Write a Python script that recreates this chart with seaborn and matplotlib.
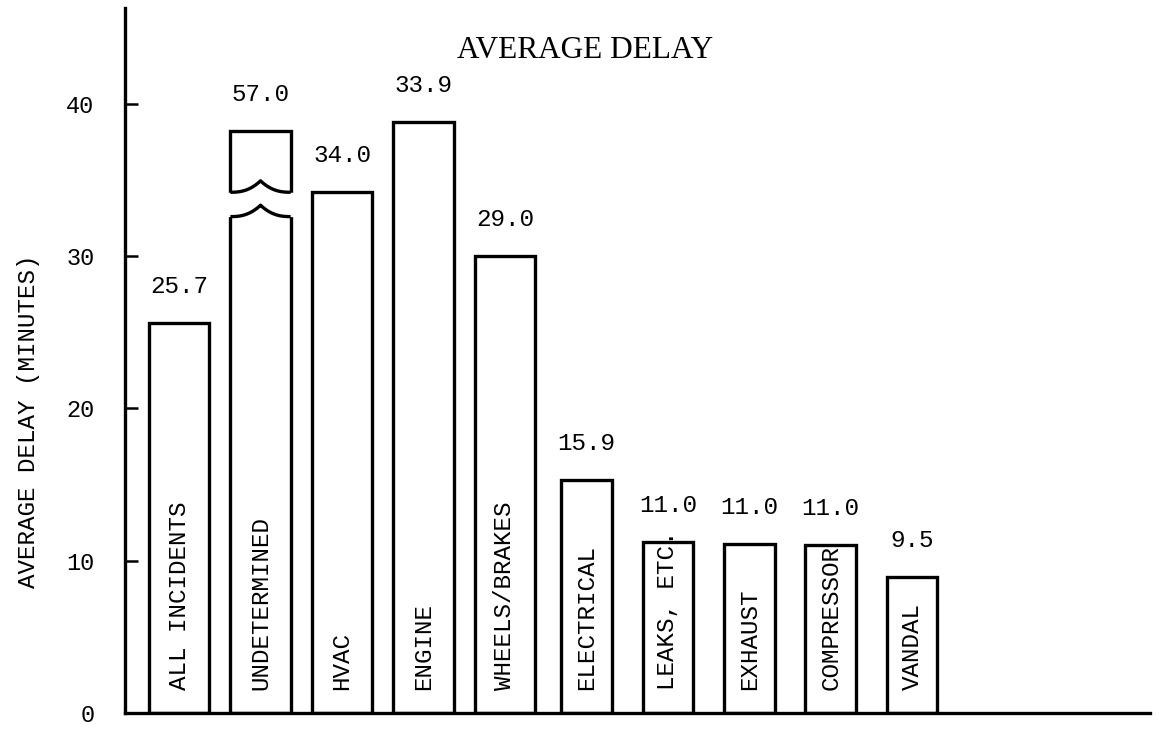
import numpy as np
import pandas as pd
import seaborn as sns
import matplotlib.pyplot as plt

# values
categories = ['ALL INCIDENTS', 'UNDETERMINED', 'HVAC', 'ENGINE', 'WHEELS/BRAKES',
              'ELECTRICAL', 'LEAKS, ETC.', 'EXHAUST', 'COMPRESSOR', 'VANDAL']
bar_heights = [25.6, 38.2, 34.2, 38.8, 30.0, 15.3, 11.2, 11.1, 11.0, 8.9]
value_labels = ['25.7', '57.0', '34.0', '33.9', '29.0', '15.9', '11.0', '11.0', '11.0', '9.5']
y_ticks = [0, 10, 20, 30, 40]

# broken bar (UNDETERMINED is off the scale)
BROKEN = 1
BREAK_LOW = 32.6
BREAK_HIGH = 34.2
BUMP = 0.75

MONO = 'Liberation Mono'

df = pd.DataFrame({'cause': categories, 'delay': bar_heights})

sns.set_theme(style='white')
plt.rcParams['font.family'] = [MONO, 'DejaVu Sans Mono']
plt.rcParams['text.color'] = 'black'
plt.rcParams['axes.labelcolor'] = 'black'

fig = plt.figure(figsize=(11.6, 7.29), dpi=100)
ax = fig.add_axes([0.1078, 0.022, 0.8836, 0.967])

sns.barplot(data=df, x='cause', y='delay', order=categories, color='white',
            edgecolor='black', linewidth=2.4, width=0.68, saturation=1, ax=ax)

# wider bars on the left group, narrower on the right
for i, p in enumerate(ax.patches):
    w = 0.74 if i < 5 else 0.62
    c = p.get_x() + p.get_width() / 2
    p.set_width(w)
    p.set_x(c - w / 2)
    p.set_facecolor('white')
    p.set_edgecolor('black')

# break symbol on the off-scale bar
brk = ax.patches[BROKEN]
x0, w = brk.get_x(), brk.get_width()
t = np.linspace(0, 1, 121)
bump = BUMP * (1 - np.abs(2 * t - 1)) ** 2.5
xs = x0 + t * w
ax.fill_between(np.r_[x0 - 0.04, xs, x0 + w + 0.04],
                np.r_[BREAK_LOW, BREAK_LOW + bump, BREAK_LOW],
                np.r_[BREAK_HIGH, BREAK_HIGH + bump, BREAK_HIGH],
                color='white', zorder=3, lw=0)
ax.plot(xs, BREAK_LOW + bump, color='black', lw=2.4, zorder=4, solid_capstyle='butt')
ax.plot(xs, BREAK_HIGH + bump, color='black', lw=2.4, zorder=4, solid_capstyle='butt')

# value labels over the bars and names inside them
for i, p in enumerate(ax.patches):
    cx = p.get_x() + p.get_width() / 2
    ax.annotate(value_labels[i], (cx, p.get_height()), xytext=(0, 18),
                textcoords='offset points', ha='center', va='bottom',
                fontsize=17.5, family=MONO, color='black')
    ax.text(cx, 1.5, categories[i], rotation=90, ha='center', va='bottom',
            fontsize=17.5, family=MONO, color='black')

ax.set_xlim(-0.663, 11.92)
ax.set_ylim(0, 46.3)
ax.set_yticks(y_ticks)
ax.set_yticklabels([str(v) for v in y_ticks], family=MONO, fontsize=17)
ax.set_xticks([])
ax.tick_params(axis='y', direction='in', length=9, width=1.8, pad=22, left=True, colors='black')
ax.set_xlabel('')
ax.set_ylabel('AVERAGE DELAY (MINUTES)', fontsize=17.5, family=MONO, color='black')
ax.yaxis.set_label_coords(-0.083, 0.414)

sns.despine(ax=ax)
for s in ['left', 'bottom']:
    ax.spines[s].set_linewidth(2.4)
    ax.spines[s].set_color('black')

fig.text(0.504, 1 - 50 / 729, 'AVERAGE DELAY', ha='center', va='center',
         fontsize=22.5, family='Liberation Serif', color='black')

fig.savefig('out.png', dpi=100, facecolor='white')
